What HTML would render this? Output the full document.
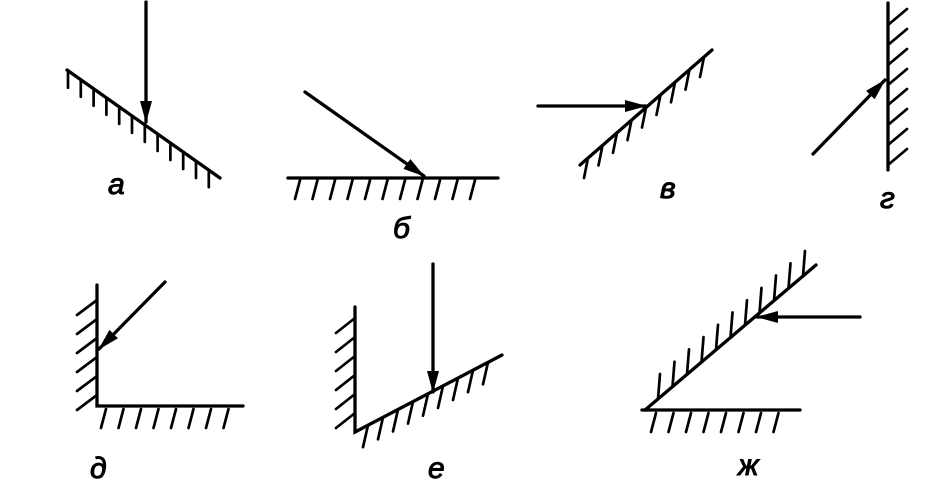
<!DOCTYPE html>
<html><head><meta charset="utf-8"><style>
html,body{margin:0;padding:0;background:#fff;width:949px;height:494px;overflow:hidden}
text{font-family:"Liberation Sans","DejaVu Sans",sans-serif;font-style:italic;font-size:30px;fill:#000}
</style></head><body>
<svg id="s" width="949" height="494" viewBox="0 0 949 494" xmlns="http://www.w3.org/2000/svg" stroke="#000" stroke-linecap="round" fill="none">
<defs>
<marker id="ar" viewBox="0 0 22 12" refX="21" refY="6" markerWidth="22" markerHeight="12" markerUnits="userSpaceOnUse" orient="auto">
<path d="M0,0 L22,6 L0,12 Z" fill="#000" stroke="none"/></marker>
</defs>
<g stroke-width="3.3">
<line x1="67" y1="70" x2="220" y2="178"/>
<line x1="146" y1="2" x2="146" y2="122" marker-end="url(#ar)"/>
<line x1="288" y1="178" x2="498" y2="178"/>
<line x1="305" y1="92" x2="424" y2="176" marker-end="url(#ar)"/>
<line x1="580" y1="165" x2="712" y2="50"/>
<line x1="538" y1="106" x2="646" y2="106" marker-end="url(#ar)"/>
<line x1="888" y1="3" x2="888" y2="170"/>
<line x1="813" y1="154" x2="885" y2="80" marker-end="url(#ar)"/>
<polyline points="97,285 97,406 243,406"/>
<line x1="165" y1="282" x2="99" y2="349" marker-end="url(#ar)"/>
<polyline points="355,307 355,432 502,355"/>
<line x1="433" y1="264" x2="433" y2="392" marker-end="url(#ar)"/>
<line x1="645" y1="410" x2="816" y2="265"/>
<line x1="642" y1="410" x2="800" y2="410"/>
<line x1="860" y1="317" x2="757" y2="317" marker-end="url(#ar)"/>
</g>
<g id="h" stroke-width="2.7"></g>
<text x="108" y="194">а</text>
<text x="393" y="238">б</text>
<text x="660" y="198">в</text>
<text x="880" y="208">г</text>
<text x="90" y="478">д</text>
<text x="428" y="478">е</text>
<text x="738" y="475">ж</text>
</svg>
<script>
var h=document.getElementById('h'),s='';
function L(a,b,c,d){s+='<line x1="'+a+'" y1="'+b+'" x2="'+c+'" y2="'+d+'"/>';}
for(var x=68;x<=210;x+=12.8){var y=70+(x-67)*108/153;L(x,y,x,y+17);}
for(var x=300;x<=490;x+=17.5)L(x,180,x-5,199);
for(var x=588;x<=705;x+=14.5){var y=165-(x-580)*115/132;L(x,y,x-4,y+20);}
for(var y=25;y<=165;y+=20)L(888,y,907,y-16);
for(var y=300;y<=400;y+=19)L(97,y,77,y+15);
for(var x=106;x<=240;x+=17.5)L(x,409,x-5,428);
for(var y=318;y<=425;y+=19)L(355,y,336,y+15);
for(var x=368;x<=495;x+=15){var y=432-(x-355)*77/147;L(x,y,x-5,y+22);}
for(var x=658;x<=812;x+=14.5){var y=410-(x-645)*145/171;L(x,y,x+2,y-25);}
for(var x=656;x<=790;x+=17.5)L(x,413,x-5,432);
h.innerHTML=s;
</script>
</body></html>
